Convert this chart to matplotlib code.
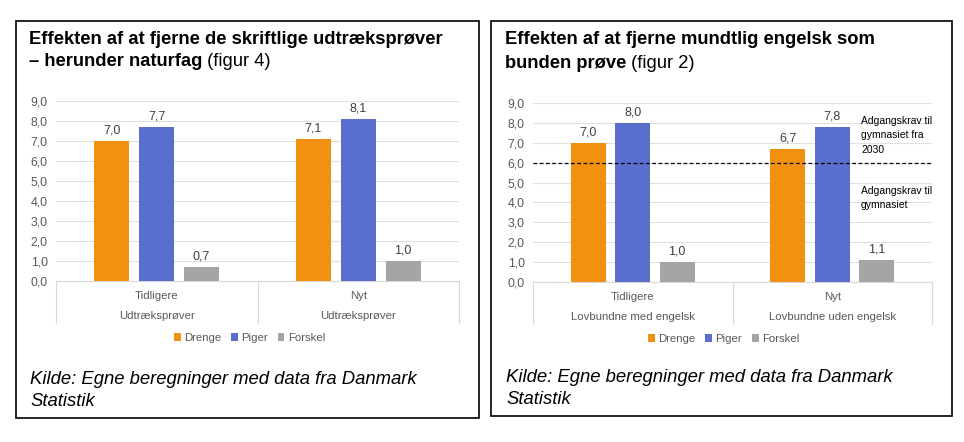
import matplotlib
matplotlib.use('Agg')
import matplotlib.pyplot as plt
from matplotlib.patches import Rectangle
from matplotlib.ticker import FuncFormatter
import numpy as np

plt.rcParams['font.family'] = ['Liberation Sans', 'DejaVu Sans']

# data
series = ['Drenge', 'Piger', 'Forskel']
colors = ['#F29111', '#5A6ECD', '#A5A5A5']

left_groups = ['Tidligere', 'Nyt']
left_sub = ['Udtrækspr\u00f8ver', 'Udtrækspr\u00f8ver']
left_vals = [[7.0, 7.1], [7.7, 8.1], [0.7, 1.0]]

right_groups = ['Tidligere', 'Nyt']
right_sub = ['Lovbundne med engelsk', 'Lovbundne uden engelsk']
right_vals = [[7.0, 6.7], [8.0, 7.8], [1.0, 1.1]]
krav = 6.0

W, H = 964, 442
fig = plt.figure(figsize=(W / 100, H / 100), dpi=100)

bg = fig.add_axes([0, 0, 1, 1])
bg.set_xlim(0, W)
bg.set_ylim(H, 0)
bg.axis('off')

comma = lambda v: ('%.1f' % v).replace('.', ',')


def pax(x0, x1, ytop, ybot):
    return fig.add_axes([x0 / W, (H - ybot) / H, (x1 - x0) / W, (ybot - ytop) / H])


def draw(ax, groups, subs, vals, ybot_px, ytop_px, leg_x):
    x = np.arange(len(groups))
    w, step = 0.174, 0.223
    for i, (name, c) in enumerate(zip(series, colors)):
        b = ax.bar(x + (i - 1) * step, vals[i], w, color=c, label=name, zorder=3)
        ax.bar_label(b, fmt=comma, padding=3, fontsize=9, color='#404040')
    ax.set_xlim(-0.5, len(groups) - 0.5)
    ax.set_ylim(0, 9)
    ax.set_yticks(np.arange(0, 10))
    ax.yaxis.set_major_formatter(FuncFormatter(lambda v, p: comma(v)))
    ax.tick_params(axis='y', length=0, labelsize=8.8, labelcolor='#595959', pad=6)
    ax.set_xticks([])
    ax.grid(axis='y', color='#E0E0E0', lw=0.8, zorder=0)
    for s in ['top', 'right', 'left']:
        ax.spines[s].set_visible(False)
    ax.spines['bottom'].set_color('#D9D9D9')
    ax.set_facecolor('none')
    ppu = (ybot_px - ytop_px) / 1.0
    fr = lambda y: (ybot_px - y) / ppu
    tr = ax.get_xaxis_transform()
    for xd in np.arange(-0.5, len(groups), 1.0):
        ax.plot([xd, xd], [0, fr(ybot_px + 42)], transform=tr, color='#D9D9D9',
                lw=0.8, clip_on=False)
    for xi, g, s in zip(x, groups, subs):
        ax.text(xi, fr(ybot_px + 15), g, transform=tr, ha='center', va='center',
                fontsize=8.2, color='#595959')
        ax.text(xi, fr(ybot_px + 35), s, transform=tr, ha='center', va='center',
                fontsize=8.2, color='#595959')
    ax.legend(loc='center', bbox_to_anchor=(leg_x, fr(ybot_px + 57)), ncol=3,
              frameon=False, fontsize=8.2, handlelength=0.6, handleheight=0.6,
              handletextpad=0.3, columnspacing=0.85, labelcolor='#595959')


# left panel
bg.add_patch(Rectangle((16, 21), 463, 397, fill=False, ec='black', lw=1.2))
t = bg.text(29, 39, 'Effekten af at fjerne de skriftlige udtrækspr\u00f8ver',
            fontsize=13.2, fontweight='bold', va='center')
t = bg.text(29, 61, '\u2013 herunder naturfag', fontsize=13.2, fontweight='bold', va='center')
bg.annotate(' (figur 4)', xy=(1, 0.5), xycoords=t, va='center', fontsize=13.2)
bg.text(30, 379, 'Kilde: Egne beregninger med data fra Danmark', fontsize=13.3,
        style='italic', va='center')
bg.text(30, 401, 'Statistik', fontsize=13.3, style='italic', va='center')

ax1 = pax(56, 459, 101, 281)
draw(ax1, left_groups, left_sub, left_vals, 281, 101, 0.48)

# right panel
bg.add_patch(Rectangle((491, 21), 461, 395, fill=False, ec='black', lw=1.2))
bg.text(505, 39, 'Effekten af at fjerne mundtlig engelsk som', fontsize=13.2,
        fontweight='bold', va='center')
t = bg.text(505, 63, 'bunden pr\u00f8ve', fontsize=13.2, fontweight='bold', va='center')
bg.annotate(' (figur 2)', xy=(1, 0.5), xycoords=t, va='center', fontsize=13.2)
bg.text(506, 377, 'Kilde: Egne beregninger med data fra Danmark', fontsize=13.3,
        style='italic', va='center')
bg.text(506, 400, 'Statistik', fontsize=13.3, style='italic', va='center')

ax2 = pax(533, 932, 103, 282)
draw(ax2, right_groups, right_sub, right_vals, 282, 103, 0.478)
ax2.axhline(krav, color='black', lw=0.9, ls=(0, (3, 2)), zorder=4)
ax2.text(0.822, 8.35, 'Adgangskrav til\ngymnasiet fra\n2030', transform=ax2.get_yaxis_transform(),
         fontsize=7.5, va='top', ha='left', linespacing=1.55)
ax2.text(0.822, 4.83, 'Adgangskrav til\ngymnasiet', transform=ax2.get_yaxis_transform(),
         fontsize=7.5, va='top', ha='left', linespacing=1.55)

fig.savefig('out.png', dpi=100)
